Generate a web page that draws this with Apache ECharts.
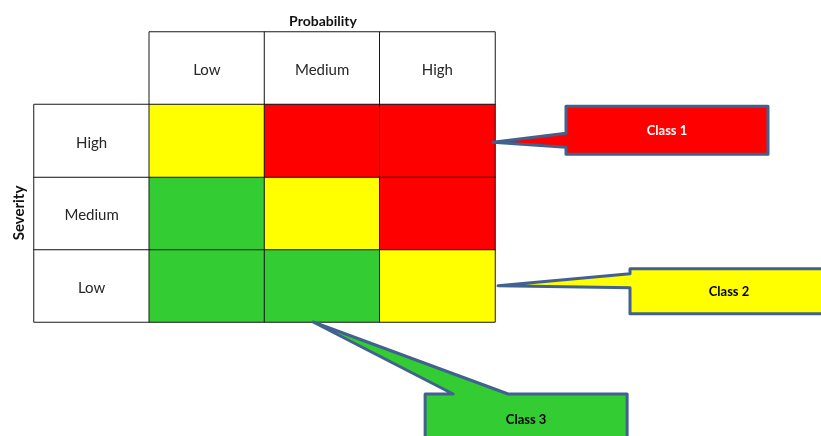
<!DOCTYPE html>
<html>
<head>
<meta charset="utf-8">
<script src="https://cdn.jsdelivr.net/npm/echarts@6/dist/echarts.min.js"></script>
<style>html,body{margin:0;padding:0;background:#fff;}#c{width:821px;height:436px;}</style>
</head>
<body>
<div id="c"></div>
<script>
// ---- data ----
const probabilityLevels = ['Low', 'Medium', 'High'];
const severityLevels = ['Low', 'Medium', 'High'];
// risk class per severity row (Low -> High) and probability column (Low -> High)
const riskClassLow = [3, 3, 2];
const riskClassMedium = [3, 2, 1];
const riskClassHigh = [2, 1, 1];
const classLabels = ['Class 1', 'Class 2', 'Class 3'];
const calloutProbability = ['High', 'High', 'Medium'];
const calloutSeverity = ['High', 'Low', 'Low'];

// ---- styles ----
const CLASS_COLORS = ['#FF0000', '#FFFF00', '#33CC33'];
const CLASS_TEXT = ['#FFFFFF', '#000000', '#000000'];
const OUTLINE = '#41628F';
const FONT = 'Lato, "Noto Sans", sans-serif';

const HDR = '\u200b';
const xCats = [HDR].concat(probabilityLevels);
const yCats = severityLevels.concat([HDR]);
const riskRows = [riskClassLow, riskClassMedium, riskClassHigh];

const cells = [];
probabilityLevels.forEach((p, i) => {
  cells.push({ name: p, value: [i + 1, 3, 0], itemStyle: { color: '#FFFFFF' }, label: { show: true } });
});
severityLevels.forEach((s, j) => {
  cells.push({ name: s, value: [0, j, 0], itemStyle: { color: '#FFFFFF' }, label: { show: true } });
  riskRows[j].forEach((cls, i) => {
    cells.push({ name: classLabels[cls - 1], value: [i + 1, j, cls], itemStyle: { color: CLASS_COLORS[cls - 1] }, label: { show: false } });
  });
});

const callouts = classLabels.map((c, k) => [
  probabilityLevels.indexOf(calloutProbability[k]) + 1,
  severityLevels.indexOf(calloutSeverity[k]),
  k
]);

// callout geometry (pixel offsets relative to the pointer tip)
const CALLOUT_LAYOUT = [
  { anchor: 'right', dx: -2, dy: 1.5, box: [73, -36, 275, 12], base: [-9, 5] },
  { anchor: 'right', dx: 3, dy: 0, box: [132, -17, 330, 28], base: [-12, 2] },
  { anchor: 'bottom', dx: -9, dy: 0, box: [112, 72, 314, 122], base: [140, 195] }
];

function renderCallout(params, api) {
  const k = api.value(2);
  const L = CALLOUT_LAYOUT[k];
  const c = api.coord([api.value(0), api.value(1)]);
  const s = api.size([1, 1]);
  let tx, ty;
  if (L.anchor === 'right') { tx = c[0] + s[0] / 2 + L.dx; ty = c[1] + L.dy; }
  else { tx = c[0] + L.dx; ty = c[1] + s[1] / 2 + L.dy; }
  const l = tx + L.box[0], t = ty + L.box[1], r = tx + L.box[2], b = ty + L.box[3];
  let pts;
  if (L.anchor === 'right') {
    pts = [[l, t], [r, t], [r, b], [l, b], [l, ty + L.base[1]], [tx, ty], [l, ty + L.base[0]]];
  } else {
    pts = [[l, t], [tx + L.base[0], t], [tx, ty], [tx + L.base[1], t], [r, t], [r, b], [l, b]];
  }
  return {
    type: 'group',
    children: [
      { type: 'polygon', shape: { points: pts },
        style: { fill: CLASS_COLORS[k], stroke: OUTLINE, lineWidth: 3, lineJoin: 'round' } },
      { type: 'text', x: (l + r) / 2, y: (t + b) / 2 + 1,
        style: { text: classLabels[k], align: 'center', verticalAlign: 'middle',
          fill: CLASS_TEXT[k], font: 'bold 13px ' + FONT } }
    ]
  };
}

const chart = echarts.init(document.getElementById('c'), null, { renderer: 'canvas' });
chart.setOption({
  animation: false,
  backgroundColor: '#FFFFFF',
  grid: { left: 34, top: 32, width: 461, height: 290 },
  xAxis: { type: 'category', data: xCats, show: false },
  yAxis: { type: 'category', data: yCats, show: false },
  graphic: [
    { type: 'text', x: 323, y: 21,
      style: { text: 'Probability', align: 'center', verticalAlign: 'middle', font: 'bold 14px ' + FONT, fill: '#111' } },
    { type: 'text', x: 19, y: 213, rotation: Math.PI / 2,
      style: { text: 'Severity', align: 'center', verticalAlign: 'middle', font: 'bold 15px ' + FONT, fill: '#111' } }
  ],
  series: [
    {
      type: 'heatmap',
      data: cells,
      itemStyle: { borderColor: '#1A1A1A', borderWidth: 1 },
      label: { formatter: '{b}', fontFamily: FONT, fontSize: 15, color: '#262626', offset: [0, 2] },
      emphasis: { disabled: true }
    },
    {
      type: 'custom',
      data: callouts,
      encode: { x: 0, y: 1 },
      clip: false,
      renderItem: renderCallout,
      z: 5
    }
  ]
});
</script>
</body>
</html>
